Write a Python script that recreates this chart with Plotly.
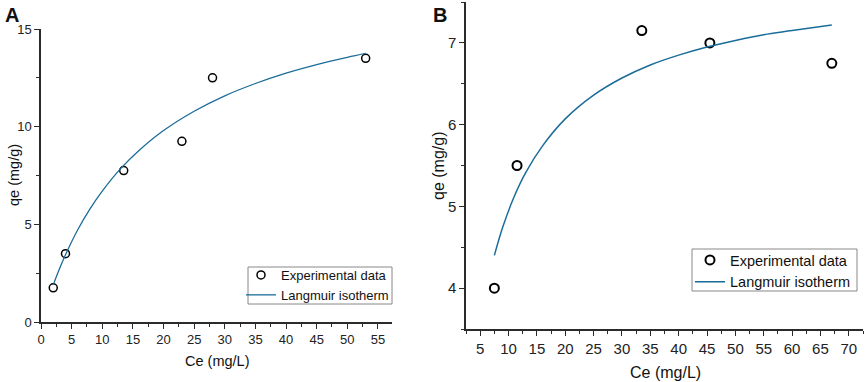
import plotly.graph_objects as go

# Panel A data
a_ce = [2, 4, 13.5, 23, 28, 53]
a_qe = [1.75, 3.5, 7.75, 9.25, 12.5, 13.5]
a_fit_ce = [2, 3, 4, 6, 8, 10, 13, 16, 20, 25, 30, 35, 40, 45, 50, 53]
a_fit_qe = [1.90, 2.71, 3.44, 4.72, 5.79, 6.70, 7.85, 8.78, 9.80, 10.79, 11.58, 12.21, 12.74, 13.18, 13.55, 13.75]

# Panel B data
b_ce = [7.5, 11.5, 33.5, 45.5, 67]
b_qe = [4.0, 5.5, 7.15, 7.0, 6.75]
b_fit_ce = [7.5, 9, 11, 13, 16, 20, 25, 30, 35, 40, 45, 50, 55, 60, 67]
b_fit_qe = [4.40, 4.75, 5.12, 5.41, 5.74, 6.07, 6.36, 6.57, 6.73, 6.85, 6.95, 7.03, 7.10, 7.15, 7.22]

W, H = 865, 382
def px(x):
    return x / W
def py(y):
    return 1 - y / H

FONT = "Liberation Sans, Arial, sans-serif"
CURVE = "#1b6d99"
AX = "#2b2b2b"

fig = go.Figure()
fig.add_trace(go.Scatter(x=a_ce, y=a_qe, mode="markers", name="Experimental data",
                         marker=dict(symbol="circle-open", size=8, color="black", line=dict(width=1.5)),
                         xaxis="x", yaxis="y", legend="legend"))
fig.add_trace(go.Scatter(x=a_fit_ce, y=a_fit_qe, mode="lines", name="Langmuir isotherm",
                         line=dict(color=CURVE, width=1.3, shape="spline"),
                         xaxis="x", yaxis="y", legend="legend"))
fig.add_trace(go.Scatter(x=b_ce, y=b_qe, mode="markers", name="Experimental data",
                         marker=dict(symbol="circle-open", size=9, color="black", line=dict(width=2)),
                         xaxis="x2", yaxis="y2", legend="legend2"))
fig.add_trace(go.Scatter(x=b_fit_ce, y=b_fit_qe, mode="lines", name="Langmuir isotherm",
                         line=dict(color=CURVE, width=1.5, shape="spline"),
                         xaxis="x2", yaxis="y2", legend="legend2"))

def axis_common(fs):
    return dict(showline=True, linecolor=AX, linewidth=1.5, ticks="outside", ticklen=5,
                tickwidth=1.3, tickcolor=AX, showgrid=False, zeroline=False, mirror=False,
                automargin=False,
                tickfont=dict(family=FONT, size=fs, color="#222"))

fig.update_layout(
    width=W, height=H, margin=dict(l=0, r=0, t=0, b=0, autoexpand=False),
    plot_bgcolor="white", paper_bgcolor="white",
    xaxis=dict(domain=[px(41), px(392)], range=[0, 57.3], tick0=0, dtick=5,
               minor=dict(ticks="outside", ticklen=3, dtick=2.5, tickcolor=AX, tickwidth=1.2),
               anchor="y", **axis_common(13)),
    yaxis=dict(domain=[py(322), py(29)], range=[0, 15], tick0=0, dtick=5,
               minor=dict(ticks="outside", ticklen=3, dtick=2.5, tickcolor=AX, tickwidth=1.2),
               anchor="x", **axis_common(13)),
    xaxis2=dict(domain=[px(466), px(863)], range=[2.5, 72.5], tick0=0, dtick=5,
                minor=dict(ticks="outside", ticklen=3, dtick=2.5, tickcolor=AX, tickwidth=1.2),
                anchor="y2", **axis_common(15)),
    yaxis2=dict(domain=[py(329), py(2)], range=[3.5, 7.5], tick0=0, dtick=1,
                minor=dict(ticks="outside", ticklen=3, dtick=0.5, tickcolor=AX, tickwidth=1.2),
                anchor="x2", **axis_common(15)),
    legend=dict(x=px(241), y=py(260), xanchor="left", yanchor="top",
                borderwidth=0, bgcolor="rgba(0,0,0,0)",
                font=dict(family=FONT, size=13, color="#111"), tracegroupgap=0,
                itemwidth=30),
    legend2=dict(x=px(690), y=py(244), xanchor="left", yanchor="top",
                 borderwidth=0, bgcolor="rgba(0,0,0,0)",
                 font=dict(family=FONT, size=14.5, color="#111"), tracegroupgap=0,
                 itemwidth=30),
    showlegend=True,
)

# legend frames
fig.add_shape(type="rect", xref="paper", yref="paper", x0=px(248), x1=px(392), y0=py(304), y1=py(267),
              line=dict(color="#888", width=1), fillcolor="white", layer="below")
fig.add_shape(type="rect", xref="paper", yref="paper", x0=px(692), x1=px(857), y0=py(291), y1=py(249),
              line=dict(color="#888", width=1), fillcolor="white", layer="below")

ann = [
    dict(text="<b>A</b>", x=px(3), y=py(2), xanchor="left", yanchor="top", font=dict(size=20)),
    dict(text="<b>B</b>", x=px(431), y=py(2), xanchor="left", yanchor="top", font=dict(size=20)),
    dict(text="qe (mg/g)", x=px(14), y=py(175), textangle=-90, font=dict(size=14.5)),
    dict(text="Ce (mg/L)", x=px(217), y=py(361), font=dict(size=14.5)),
    dict(text="qe (mg/g)", x=px(438), y=py(166), textangle=-90, font=dict(size=16)),
    dict(text="Ce (mg/L)", x=px(665), y=py(372), font=dict(size=16)),
]
for a in ann:
    a.update(xref="paper", yref="paper", showarrow=False, xanchor=a.get("xanchor", "center"),
             yanchor=a.get("yanchor", "middle"))
    a["font"].update(family=FONT, color="#111")
    fig.add_annotation(**a)

fig.write_html("out.html", config={"displayModeBar": False},
               post_script="document.body.style.margin='0px';")
